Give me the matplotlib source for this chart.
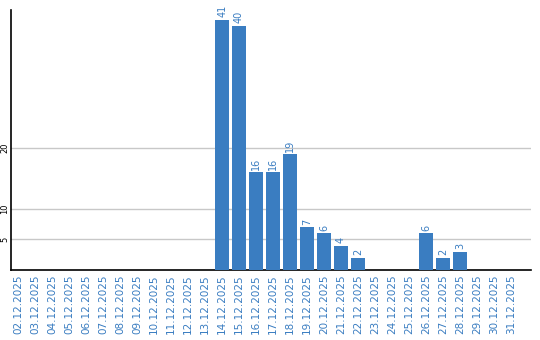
import matplotlib
matplotlib.use("Agg")
import matplotlib.pyplot as plt

dates = ["%02d.12.2025" % d for d in range(2, 32)]
counts = [0, 0, 0, 0, 0, 0, 0, 0, 0, 0, 0, 0,
          41, 40, 16, 16, 19, 7, 6, 4, 2, 0, 0, 0, 6, 2, 3, 0, 0, 0]
yticks = [5, 10, 20]

BLUE = "#3a7dc1"

fig = plt.figure(figsize=(5.4, 3.4), dpi=100)
ax = fig.add_axes([10.5 / 540, 70 / 340, 520 / 540, 260 / 340])

x = list(range(len(dates)))
ax.bar(x, counts, width=0.82, color=BLUE, zorder=3)

for xi, c in zip(x, counts):
    if c > 0:
        ax.text(xi, c + 0.4, str(c), rotation=90, ha="center", va="bottom",
                color=BLUE, fontsize=7)

ax.set_xlim(-0.45, 30.15)
ax.set_ylim(0, 42.6)
ax.set_yticks(yticks)
ax.set_yticklabels([str(t) for t in yticks], rotation=90, va="center", fontsize=6)
ax.grid(axis="y", color="#c8c8c8", linewidth=1, zorder=0)
ax.tick_params(axis="y", length=0, pad=1)
ax.set_xticks(x)
ax.set_xticklabels(dates, rotation=90, color=BLUE, fontsize=7.5)
ax.tick_params(axis="x", length=0, pad=3)

for s in ["top", "right"]:
    ax.spines[s].set_visible(False)
ax.spines["left"].set_linewidth(1.2)
ax.spines["bottom"].set_linewidth(1.2)

fig.savefig("out.png", dpi=100)
